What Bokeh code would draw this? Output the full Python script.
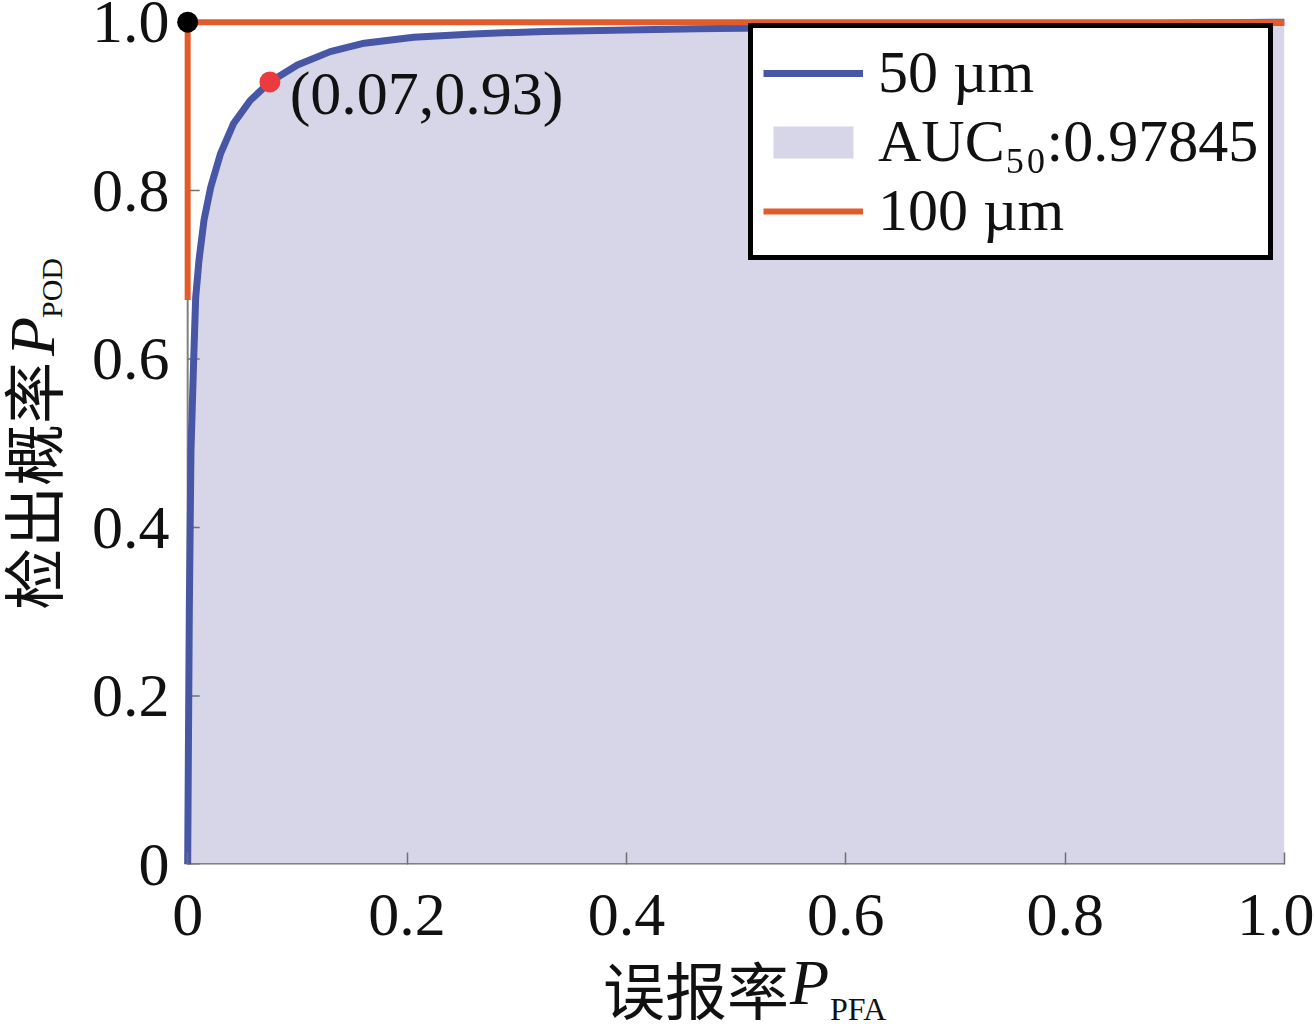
from bokeh.plotting import figure
from bokeh.models import Range1d, FixedTicker, Legend, LegendItem, Label, Div
from bokeh.layouts import row, column
from bokeh.embed import file_html
from bokeh.resources import INLINE

# ---- data ----
pfa_50 = [0.0, 0.0005, 0.0015, 0.003, 0.0055, 0.0073, 0.0103, 0.0149, 0.021, 0.030,
          0.042, 0.057, 0.075, 0.100, 0.130, 0.161, 0.206, 0.26, 0.325, 0.464,
          0.65, 0.85, 1.0]
pod_50 = [0.0, 0.10, 0.30, 0.49, 0.60, 0.673, 0.717, 0.765, 0.804, 0.844,
          0.880, 0.907, 0.929, 0.949, 0.965, 0.975, 0.982, 0.986, 0.989, 0.992,
          0.995, 0.998, 1.0]
pfa_100 = [0.0, 0.0, 1.0]
pod_100 = [0.67, 1.0, 1.0]
op_50 = ([0.075], [0.929])      # marked operating point of 50 um curve
op_100 = ([0.0], [1.0])         # operating point of 100 um curve
op_label = "(0.07,0.93)"
auc_50 = "0.97845"
ticks = [0, 0.2, 0.4, 0.6, 0.8, 1.0]
tick_labels = ["0", "0.2", "0.4", "0.6", "0.8", "1.0"]
x_title = ("误报率", "P", "PFA")
y_title = ("检出概率", "P", "POD")

BLUE = "#4756a5"
ORANGE = "#e25b2c"
FILL = "#d6d6e8"
AXIS = "#808080"
SERIF = "Liberation Serif"
CJK = "Noto Sans CJK SC"
TICK_LEN = 12 / 1097   # inward tick length of the y axis, in data units
YDIV_W = 70

p = figure(frame_width=1110, frame_height=855,
           x_range=Range1d(-0.012, 1.0), y_range=Range1d(0, 1.015),
           output_backend="svg", toolbar_location=None,
           min_border_left=174 - YDIV_W, min_border_right=30,
           min_border_top=9, min_border_bottom=100)
p.outline_line_color = None
p.xgrid.visible = False
p.ygrid.visible = False

area = p.varea(x=pfa_50, y1=[0] * len(pfa_50), y2=pod_50, fill_color=FILL, fill_alpha=1)

# axis lines and y ticks drawn at the data origin
n = len(ticks)
p.segment(x0=[ticks[0]], y0=[ticks[0]], x1=[ticks[-1]], y1=[ticks[0]], line_color=AXIS, line_width=3)
p.segment(x0=[ticks[0]], y0=[ticks[0]], x1=[ticks[0]], y1=[ticks[-1]], line_color=AXIS, line_width=2)
p.segment(x0=[ticks[0]] * n, y0=ticks, x1=[ticks[0] + TICK_LEN] * n, y1=ticks,
          line_color="#707070", line_width=1.5)

blue = p.line(pfa_50, pod_50, line_color=BLUE, line_width=7, line_join="round")
orange = p.line(pfa_100, pod_100, line_color=ORANGE, line_width=6)
p.scatter(op_50[0], op_50[1], size=21, fill_color="#ea3b3f", line_color=None)
p.scatter(op_100[0], op_100[1], size=21, fill_color="black", line_color=None)

for ax in (p.xaxis[0], p.yaxis[0]):
    ax.ticker = FixedTicker(ticks=ticks, minor_ticks=[])
    ax.major_label_overrides = {t: s for t, s in zip(ticks, tick_labels)}
    ax.axis_line_color = None
    ax.minor_tick_line_color = None
    ax.major_label_text_font = SERIF
    ax.major_label_text_font_size = "62px"
    ax.major_label_text_color = "#111111"
p.xaxis.major_tick_line_color = "#707070"
p.xaxis.major_tick_line_width = 1.5
p.xaxis.major_tick_in = 12
p.xaxis.major_tick_out = 0
p.xaxis.major_label_standoff = 30
p.yaxis.major_tick_line_color = None
p.yaxis.major_tick_in = 0
p.yaxis.major_tick_out = 0
p.yaxis.major_label_standoff = 5

# point annotation
p.add_layout(Label(x=0.093, y=0.875, text=op_label, text_font=SERIF, text_font_size="62px",
                   text_color="#111111"))

legend = Legend(items=[LegendItem(label="50 µm", renderers=[blue]),
                       LegendItem(label="AUC₅₀:" + auc_50, renderers=[area]),
                       LegendItem(label="100 µm", renderers=[orange])],
                location=(574, 604))
legend.label_text_font = SERIF
legend.label_text_font_size = "60px"
legend.label_text_color = "#111111"
legend.glyph_width = 100
legend.glyph_height = 40
legend.label_height = 58
legend.label_standoff = 15
legend.padding = 10
legend.spacing = 0
legend.margin = 0
legend.border_line_color = "black"
legend.border_line_alpha = 1
legend.border_line_width = 5
legend.background_fill_color = "white"
legend.background_fill_alpha = 1
p.add_layout(legend)

# ---- axis titles (mixed fonts, italic P and subscripts) as HTML text ----
SPAN = "position:absolute;white-space:nowrap;line-height:1;color:#111;"
x_html = (
    '<div style="position:relative;width:1244px;height:60px;">'
    f'<span style="{SPAN}left:533px;top:-7px;font-family:\'{CJK}\';font-size:62px;">{x_title[0]}</span>'
    f'<span style="{SPAN}left:720px;top:-13px;font-family:\'{SERIF}\';font-style:italic;font-size:64px;">{x_title[1]}</span>'
    f'<span style="{SPAN}left:760px;top:29px;font-family:\'{SERIF}\';font-size:32px;">{x_title[2]}</span>'
    '</div>'
)
ROT = "transform:rotate(-90deg);transform-origin:0 0;"
y_html = (
    f'<div style="position:relative;width:{YDIV_W}px;height:1024px;">'
    f'<span style="{SPAN}{ROT}left:0px;top:610px;font-family:\'{CJK}\';font-size:62px;">{y_title[0]}</span>'
    f'<span style="{SPAN}{ROT}left:1px;top:356px;font-family:\'{SERIF}\';font-style:italic;font-size:64px;">{y_title[1]}</span>'
    f'<span style="{SPAN}{ROT}left:37px;top:318px;font-family:\'{SERIF}\';font-size:30px;">{y_title[2]}</span>'
    '</div>'
)
xdiv = Div(text=x_html, width=1244, height=60, margin=0, styles={"overflow": "visible"})
ydiv = Div(text=y_html, width=YDIV_W, height=1024, margin=0, styles={"overflow": "visible"})

layout = row(ydiv, column(p, xdiv, spacing=0), spacing=0)

open("out.html", "w").write(file_html(layout, INLINE))
